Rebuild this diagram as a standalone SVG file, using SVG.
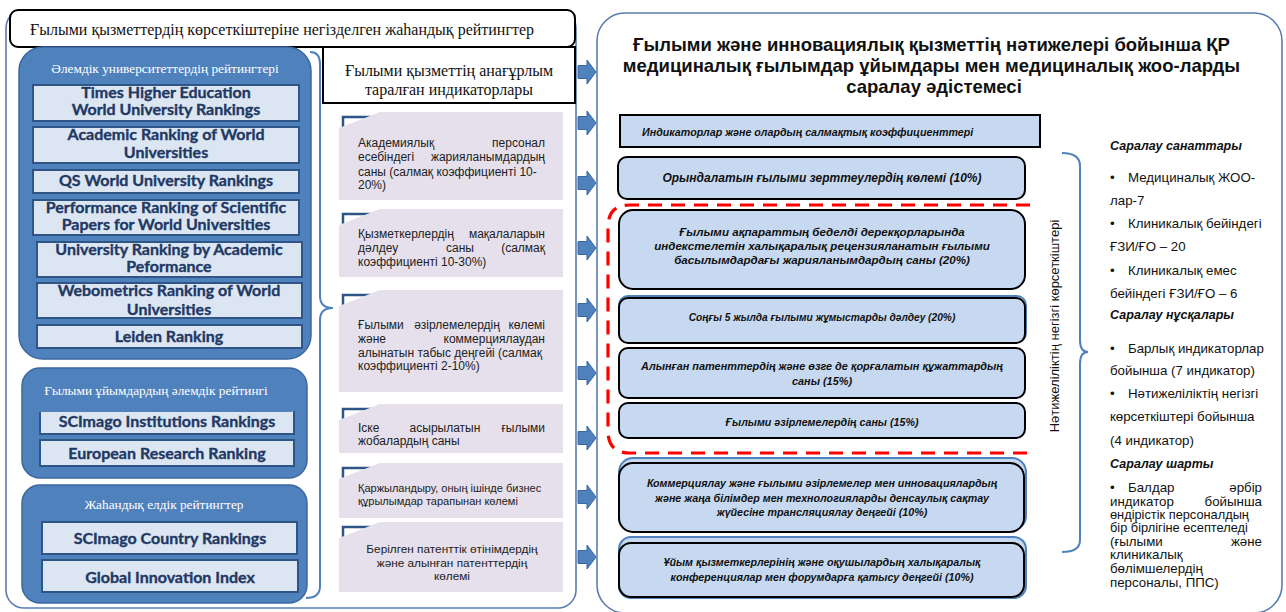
<svg xmlns="http://www.w3.org/2000/svg" width="1286" height="612" viewBox="0 0 1286 612">
<style>
.frame{fill:#fff;stroke:#5a7db0;stroke-width:1.6}
.panel{fill:#4f81bd;stroke:#3a679e;stroke-width:1.5}
.rk{fill:#dce6f2;stroke:#2f5587;stroke-width:2}
.rkt{font-family:Lato,"Liberation Sans",sans-serif;font-weight:bold;font-size:16px;fill:#1f3864;stroke:#1f3864;stroke-width:0.35;text-anchor:middle}
.ser{font-family:"Liberation Serif",serif}
.hdr{font-family:"Liberation Serif",serif;font-size:13.3px;fill:#fff;text-anchor:middle}
.card{fill:#e5e0ec}
.tab{fill:none;stroke:#2f5587;stroke-width:2.5}
.ct{font-family:"Liberation Sans",Arial,sans-serif;font-size:12px;fill:#222}
.arrow{fill:#4f81bd;stroke:#3a679e;stroke-width:1}
.bx{fill:#c6d9f1;stroke:#000;stroke-width:2}
.bxb{fill:#c6d9f1;stroke:#4f81bd;stroke-width:2}
.bt{font-family:"Liberation Sans",Arial,sans-serif;font-weight:bold;font-style:italic;font-size:10.7px;fill:#111}
.mid{text-anchor:middle}
.rt{font-family:"Liberation Sans",Arial,sans-serif;font-size:13.3px;fill:#111}
.rh{font-family:"Liberation Sans",Arial,sans-serif;font-size:12.5px;font-weight:bold;font-style:italic;fill:#111}
.brace{fill:none;stroke:#4f81bd;stroke-width:2}
</style>

<!-- frames -->
<g id="left-frame"><rect class="frame" x="6" y="10" width="570" height="598" rx="18"/></g>
<g id="right-frame"><rect class="frame" x="597" y="13" width="685" height="600" rx="28"/></g>

<!-- title -->
<g id="title-left">
<rect x="10" y="10" width="565" height="37" rx="8" fill="#fff" stroke="#000" stroke-width="2"/>
<text class="ser" x="30" y="35" style="font-size:16px" fill="#111">Ғылыми қызметтердің көрсеткіштеріне негізделген жаһандық рейтингтер</text>
</g>

<!-- panel 1 -->
<g id="world-universities">
<rect class="panel" x="19" y="47" width="292" height="312" rx="24"/>
<text class="hdr" x="165" y="73">Әлемдік университеттердің рейтингтері</text>
<rect class="rk" x="33" y="85" width="266" height="36"/>
<text class="rkt" x="166" y="98">Times Higher Education</text>
<text class="rkt" x="166" y="115">World University Rankings</text>
<rect class="rk" x="33" y="127" width="266" height="36"/>
<text class="rkt" x="166" y="140">Academic Ranking of World</text>
<text class="rkt" x="166" y="158">Universities</text>
<rect class="rk" x="33" y="170" width="266" height="23"/>
<text class="rkt" x="166" y="186">QS World University Rankings</text>
<rect class="rk" x="33" y="200" width="266" height="35"/>
<text class="rkt" x="166" y="213">Performance Ranking of Scientific</text>
<text class="rkt" x="166" y="230">Papers for World Universities</text>
<rect class="rk" x="37" y="242" width="265" height="35"/>
<text class="rkt" x="169" y="255">University Ranking  by Academic</text>
<text class="rkt" x="169" y="272">Peformance</text>
<rect class="rk" x="37" y="283" width="265" height="35"/>
<text class="rkt" x="169" y="296">Webometrics Ranking of World</text>
<text class="rkt" x="169" y="315">Universities</text>
<rect class="rk" x="37" y="325" width="265" height="23"/>
<text class="rkt" x="169" y="342">Leiden Ranking</text>
</g>

<!-- panel 2 -->
<g id="science-orgs">
<rect class="panel" x="22" y="368" width="285" height="110" rx="18"/>
<rect class="rk" x="40" y="404" width="254" height="30"/>
<rect x="23" y="369" width="283" height="43" rx="17" fill="#4f81bd"/>
<text class="hdr" x="156" y="395">Ғылыми ұйымдардың әлемдік рейтингі</text>
<text class="rkt" x="167" y="427">SCImago Institutions Rankings</text>
<rect class="rk" x="40" y="440" width="254" height="26"/>
<text class="rkt" x="167" y="459">European Research Ranking</text>
</g>

<!-- panel 3 -->
<g id="country-rankings">
<rect class="panel" x="22" y="485" width="285" height="118" rx="18"/>
<text class="hdr" x="164" y="509">Жаһандық елдік рейтингтер</text>
<rect class="rk" x="42" y="522" width="255" height="32"/>
<text class="rkt" x="170" y="544">SCImago Country  Rankings</text>
<rect class="rk" x="42" y="560" width="256" height="32"/>
<text class="rkt" x="170" y="583">Global Innovation Index</text>
</g>

<!-- middle header -->
<g id="indicators-header">
<rect x="323" y="47" width="252" height="56" fill="#fff" stroke="#000" stroke-width="2"/>
<text class="ser" x="449" y="76" style="font-size:16px" fill="#111" text-anchor="middle">Ғылыми қызметтің анағұрлым</text>
<text class="ser" x="449" y="95" style="font-size:16px" fill="#111" text-anchor="middle">таралған индикаторлары</text>
</g>

<!-- cards -->
<g id="card1">
<path class="tab" d="M343,128 V117 H372"/>
<path class="card" d="M339,128 L380,112 H563 V200 H339 Z"/>
<text class="ct" x="358" y="147">Академиялық</text><text class="ct" x="545" y="147" text-anchor="end">персонал</text>
<text class="ct" x="358" y="161">есебіндегі</text><text class="ct" x="545" y="161" text-anchor="end">жарияланымдардың</text>
<text class="ct" x="358" y="176">саны (салмақ коэффициенті 10-</text>
<text class="ct" x="358" y="189">20%)</text>
</g>
<g id="card2">
<path class="tab" d="M343,225 V214 H372"/>
<path class="card" d="M339,225 L380,209 H563 V277 H339 Z"/>
<text class="ct" x="358" y="238">Қызметкерлердің</text><text class="ct" x="545" y="238" text-anchor="end">мақалаларын</text>
<text class="ct" x="358" y="252">дәлдеу</text><text class="ct" x="460" y="252" text-anchor="middle">саны</text><text class="ct" x="545" y="252" text-anchor="end">(салмақ</text>
<text class="ct" x="358" y="266">коэффициенті 10-30%)</text>
</g>
<g id="card3">
<path class="tab" d="M343,306 V295 H372"/>
<path class="card" d="M339,306 L380,290 H563 V392 H339 Z"/>
<text class="ct" x="358" y="329">Ғылыми</text><text class="ct" x="457" y="329" text-anchor="middle">әзірлемелердің</text><text class="ct" x="545" y="329" text-anchor="end">көлемі</text>
<text class="ct" x="358" y="343">және</text><text class="ct" x="545" y="343" text-anchor="end">коммерциялаудан</text>
<text class="ct" x="358" y="357">алынатын табыс деңгейі (салмақ</text>
<text class="ct" x="358" y="370">коэффициенті 2-10%)</text>
</g>
<g id="card4">
<path class="tab" d="M343,420 V409 H372"/>
<path class="card" d="M339,420 L380,404 H563 V453 H339 Z"/>
<text class="ct" x="358" y="432">Іске</text><text class="ct" x="445" y="432" text-anchor="middle">асырылатын</text><text class="ct" x="545" y="432" text-anchor="end">ғылыми</text>
<text class="ct" x="358" y="445">жобалардың саны</text>
</g>
<g id="card5">
<path class="tab" d="M343,479 V468 H372"/>
<path class="card" d="M339,479 L380,463 H563 V518 H339 Z"/>
<text class="ct" x="358" y="492" style="font-size:11px">Қаржыландыру, оның ішінде бизнес</text>
<text class="ct" x="358" y="505" style="font-size:11px">құрылымдар тарапынан көлемі</text>
</g>
<g id="card6">
<path class="tab" d="M343,538 V527 H372"/>
<path class="card" d="M339,538 L380,522 H563 V592 H339 Z"/>
<text class="ct" x="452" y="553" style="font-size:11.8px" text-anchor="middle">Берілген патенттік өтінімдердің</text>
<text class="ct" x="452" y="567" style="font-size:11.8px" text-anchor="middle">және алынған патенттердің</text>
<text class="ct" x="452" y="580" style="font-size:11.8px" text-anchor="middle">көлемі</text>
</g>

<!-- right panel title -->
<g id="method-title">
<text font-family="'Liberation Sans',Arial,sans-serif" font-weight="bold" font-size="18.5" fill="#111" text-anchor="middle">
<tspan x="934" y="51">Ғылыми және инновациялық қызметтің нәтижелері бойынша ҚР</tspan>
<tspan x="934" y="72">медициналық ғылымдар ұйымдары мен медициналық жоо-ларды</tspan>
<tspan x="934" y="93">саралау әдістемесі</tspan>
</text>
</g>

<g id="ind-header">
<rect x="620" y="115" width="420" height="32" fill="#c6d9f1" stroke="#000" stroke-width="2"/>
<text class="bt" x="642" y="136">Индикаторлар және олардың салмақтық коэффициенттері</text>
</g>
<g id="ind1">
<rect class="bx" x="618" y="157" width="407" height="42" rx="9"/>
<text class="bt mid" x="822" y="182" style="font-size:12px">Орындалатын ғылыми зерттеулердің көлемі (10%)</text>
</g>
<g id="ind2">
<rect class="bx" x="619" y="210" width="406" height="79" rx="14"/>
<text class="bt mid" x="822" y="236" style="font-size:11.6px">Ғылыми ақпараттың беделді дерекқорларында</text>
<text class="bt mid" x="822" y="250" style="font-size:11.6px">индекстелетін халықаралық рецензияланатын ғылыми</text>
<text class="bt mid" x="822" y="264" style="font-size:11.6px">басылымдардағы жарияланымдардың саны (20%)</text>
</g>
<g id="ind3">
<rect class="bxb" x="619" y="296" width="407" height="46" rx="9"/>
<rect class="bx" x="619" y="298" width="406" height="45" rx="9"/>
<text class="bt mid" x="822" y="321" style="font-size:10.2px">Соңғы 5 жылда ғылыми жұмыстарды дәлдеу (20%)</text>
</g>
<g id="ind4">
<rect class="bx" x="619" y="348" width="406" height="50" rx="9"/>
<text class="bt mid" x="822" y="370" style="font-size:10.9px">Алынған патенттердің және өзге де  қорғалатын құжаттардың</text>
<text class="bt mid" x="822" y="385" style="font-size:10.9px">саны (15%)</text>
</g>
<g id="ind5">
<rect class="bx" x="619" y="403" width="406" height="35" rx="9"/>
<text class="bt mid" x="822" y="426">Ғылыми әзірлемелердің саны (15%)</text>
</g>
<g id="ind6">
<rect class="bxb" x="619" y="458" width="407" height="72" rx="14"/>
<rect class="bx" x="619" y="463" width="405" height="69" rx="14"/>
<text class="bt mid" x="822" y="487">Коммерциялау және ғылыми әзірлемелер мен инновациялардың</text>
<text class="bt mid" x="822" y="502">және жаңа білімдер мен технологияларды денсаулық сақтау</text>
<text class="bt mid" x="822" y="516">жүйесіне трансляциялау деңгейі  (10%)</text>
</g>
<g id="ind7">
<rect class="bxb" x="619" y="537" width="407" height="61" rx="12"/>
<rect class="bx" x="619" y="543" width="405" height="54" rx="12"/>
<text class="bt mid" x="822" y="566">Ұйым қызметкерлерінің және оқушылардың халықаралық</text>
<text class="bt mid" x="822" y="581">конференциялар мен форумдарға қатысу деңгейі (10%)</text>
</g>

<g id="kpi-label">
<text class="rt" style="font-size:13px" transform="translate(1059,326) rotate(-90)" text-anchor="middle">Нәтижеліліктің негізгі көрсеткіштері</text>
</g>

<g id="criteria">
<text class="rh" x="1110" y="150">Саралау санаттары</text>
<text class="rt" x="1110" y="182">•</text><text class="rt" x="1128" y="182">Медициналық ЖОО-</text>
<text class="rt" x="1110" y="205">лар-7</text>
<text class="rt" x="1110" y="228">•</text><text class="rt" x="1128" y="228">Клиникалық бейіндегі</text>
<text class="rt" x="1110" y="251">ҒЗИ/ҒО – 20</text>
<text class="rt" x="1110" y="275">•</text><text class="rt" x="1128" y="275">Клиникалық емес</text>
<text class="rt" x="1110" y="298">бейіндегі ҒЗИ/ҒО – 6</text>
<text class="rh" x="1110" y="319">Саралау нұсқалары</text>
<text class="rt" x="1110" y="353">•</text><text class="rt" x="1128" y="353">Барлық индикаторлар</text>
<text class="rt" x="1110" y="375">бойынша (7 индикатор)</text>
<text class="rt" x="1110" y="398">•</text><text class="rt" x="1128" y="398">Нәтижеліліктің негізгі</text>
<text class="rt" x="1110" y="421">көрсеткіштері бойынша</text>
<text class="rt" x="1110" y="445">(4 индикатор)</text>
<text class="rh" x="1110" y="468">Саралау шарты</text>
<text class="rt" x="1110" y="492">•</text><text class="rt" x="1128" y="492">Балдар</text><text class="rt" x="1262" y="492" text-anchor="end">әрбір</text>
<text class="rt" x="1110" y="506">индикатор</text><text class="rt" x="1262" y="506" text-anchor="end">бойынша</text>
<text class="rt" x="1110" y="519" style="font-size:12.8px">өндірістік персоналдың</text>
<text class="rt" x="1110" y="532" style="font-size:12.8px">бір бірлігіне есептеледі</text>
<text class="rt" x="1110" y="546">(ғылыми</text><text class="rt" x="1262" y="546" text-anchor="end">және</text>
<text class="rt" x="1110" y="559">клиникалық</text>
<text class="rt" x="1110" y="573">бөлімшелердің</text>
<text class="rt" x="1110" y="587">персоналы, ППС)</text>
</g>

<!-- connectors -->
<g id="connectors">
<path class="brace" d="M310,52 Q320,52 320,64 V296 Q320,308 333,308 Q320,308 320,320 V586 Q320,598 306,598"/>
<path class="brace" d="M1062,153 Q1080,153 1080,166 V340 Q1080,352 1088,352 Q1080,352 1080,364 V540 Q1080,552 1062,552"/>
<path d="M1030,205 H630 Q608,205 608,227 V431 Q608,453 630,453 H1030" fill="none" stroke="#ff0000" stroke-width="3.2" stroke-dasharray="14 9"/>
<path class="arrow" d="M578,65.5 H587 V60 L596,72 L587,84 V78.5 H578 Z"/>
<path class="arrow" d="M578,116.5 H587 V111 L596,123 L587,135 V129.5 H578 Z"/>
<path class="arrow" d="M578,176.5 H587 V171 L596,183 L587,195 V189.5 H578 Z"/>
<path class="arrow" d="M578,241.5 H587 V236 L596,248 L587,260 V254.5 H578 Z"/>
<path class="arrow" d="M578,303.5 H587 V298 L596,310 L587,322 V316.5 H578 Z"/>
<path class="arrow" d="M578,366.5 H587 V361 L596,373 L587,385 V379.5 H578 Z"/>
<path class="arrow" d="M578,431.5 H587 V426 L596,438 L587,450 V444.5 H578 Z"/>
<path class="arrow" d="M578,490.5 H587 V485 L596,497 L587,509 V503.5 H578 Z"/>
<path class="arrow" d="M578,550.5 H587 V545 L596,557 L587,569 V563.5 H578 Z"/>
</g>
</svg>
